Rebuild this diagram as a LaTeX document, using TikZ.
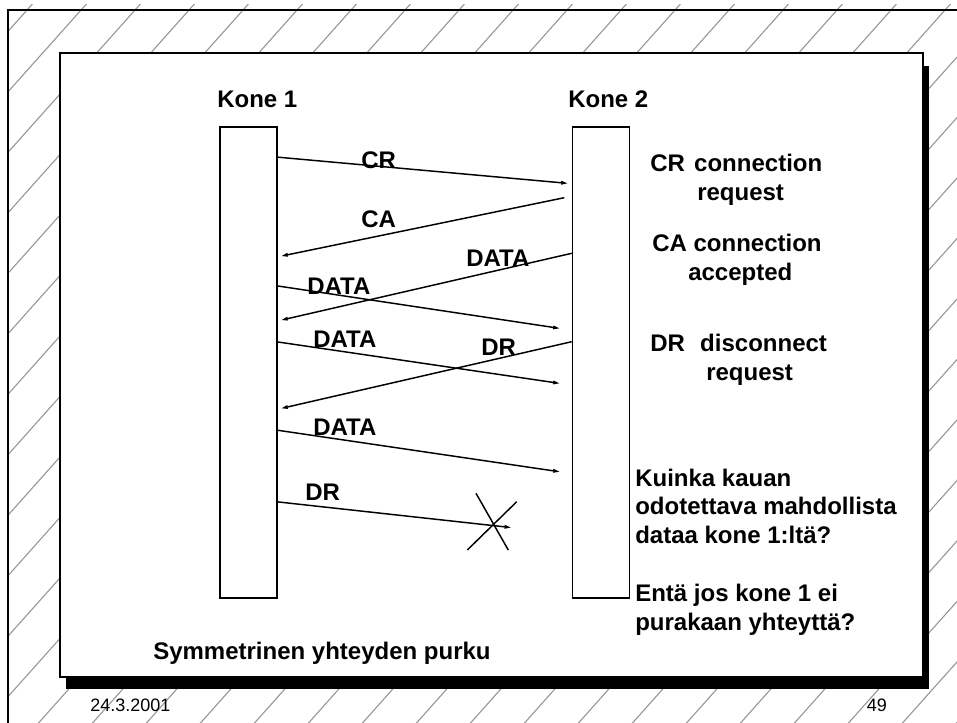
\documentclass[tikz,border=0pt]{standalone}
\usepackage{fontspec}
\setmainfont{Liberation Sans}
\usetikzlibrary{arrows.meta}
\begin{document}
\begin{tikzpicture}[x=0.75pt,y=-0.75pt,
  lbl/.style={anchor=base west, inner sep=0pt, font=\fontsize{18}{21.4}\selectfont\bfseries},
  foot/.style={anchor=base west, inner sep=0pt, font=\fontsize{13.5}{15}\selectfont},
  hatch/.style={draw=black!42, line width=0.8pt},
  life/.style={draw, line width=1.2pt, inner sep=0pt, minimum width=42.75pt, minimum height=353.25pt, anchor=north west},
  msg/.style={line width=1.1pt, -{Stealth[length=10pt,width=6.5pt,inset=6.5pt]}},
  crossline/.style={line width=1.1pt}]
\useasboundingbox (0,0) rectangle (957,722);
\clip (0,0) rectangle (957,722);
% hatch background
\begin{scope}
\clip (8,4) rectangle (957,722);
\foreach \k in {0,...,31}{
  \pgfmathsetmacro\c{36+54*\k}
  \draw[hatch] (\c+8.93,-10) -- (\c-660.7,740);
}
\end{scope}
% outer frame
\draw[line width=1.5pt] (8,740) -- (8,9.5) -- (970,9.5);
% shadow and panel
\fill[black] (66,66) rectangle (929,689);
\filldraw[fill=white, draw=black, line width=1.3pt] (60,53) rectangle (923,677);
% lifelines
\node[life] (k1) at (219,126) {};
\node[life] (k2) at (571.5,126) {};
\node[lbl] (t1) at (217,107.3) {Kone 1};
\node[lbl] (t2) at (568,107.3) {Kone 2};
% message end points
\coordinate (cr1) at (276,157);     \coordinate (cr2) at (567.3,183.3);
\coordinate (ca1) at (564.3,197.7); \coordinate (ca2) at (281.7,256);
\coordinate (da1) at (571.7,253.3); \coordinate (da2) at (281.7,320);
\coordinate (db1) at (276,285.7);   \coordinate (db2) at (559.3,328.3);
\coordinate (dc1) at (276,341.7);   \coordinate (dc2) at (559.3,383.3);
\coordinate (dr1) at (571.7,341.7); \coordinate (dr2) at (281.7,408.3);
\coordinate (dd1) at (276,430);     \coordinate (dd2) at (559.3,471.7);
\coordinate (de1) at (276,501.7);   \coordinate (de2) at (510.7,527.5);
\draw[msg] (cr1) -- (cr2);
\draw[msg] (ca1) -- (ca2);
\draw[msg] (da1) -- (da2);
\draw[msg] (db1) -- (db2);
\draw[msg] (dc1) -- (dc2);
\draw[msg] (dr1) -- (dr2);
\draw[msg] (dd1) -- (dd2);
\draw[msg] (de1) -- (de2);
% cross
\coordinate (xa1) at (476,493.3); \coordinate (xa2) at (508.3,550);
\coordinate (xb1) at (516.7,501.7); \coordinate (xb2) at (467.3,550);
\draw[crossline] (xa1) -- (xa2);
\draw[crossline] (xb1) -- (xb2);
% message labels
\node[lbl] (lcr) at (361,168) {CR};
\node[lbl] (lca) at (361,227) {CA};
\node[lbl] (lda) at (466,266.7) {DATA};
\node[lbl] (ldb) at (307,294) {DATA};
\node[lbl] (ldc) at (313,347.3) {DATA};
\node[lbl] (ldr) at (481,355) {DR};
\node[lbl] (ldd) at (313,435) {DATA};
\node[lbl] (lde) at (305,500) {DR};
% right-hand notes
\node[lbl] (n1) at (650,171.7) {CR\hspace{7pt}connection};
\node[lbl] (n2) at (697,200.2) {request};
\node[lbl] (n3) at (652,251.6) {CA connection};
\node[lbl] (n4) at (688,280.1) {accepted};
\node[lbl] (n5) at (650,351.6) {DR\hspace{11.5pt}disconnect};
\node[lbl] (n6) at (706,380.1) {request};
\node[lbl] (q1) at (635,486.3) {Kuinka kauan};
\node[lbl] (q2) at (635,514.8) {odotettava mahdollista};
\node[lbl] (q3) at (635,543.3) {dataa kone 1:ltä?};
\node[lbl] (q4) at (635,601.7) {Entä jos kone 1 ei};
\node[lbl] (q5) at (635,630.2) {purakaan yhteyttä?};
\node[lbl] (title) at (153,659.3) {Symmetrinen yhteyden purku};
% footer
\node[foot] (date) at (90,711.7) {24.3.2001};
\node[foot] (page) at (866.5,711.7) {49};
\end{tikzpicture}
\end{document}
